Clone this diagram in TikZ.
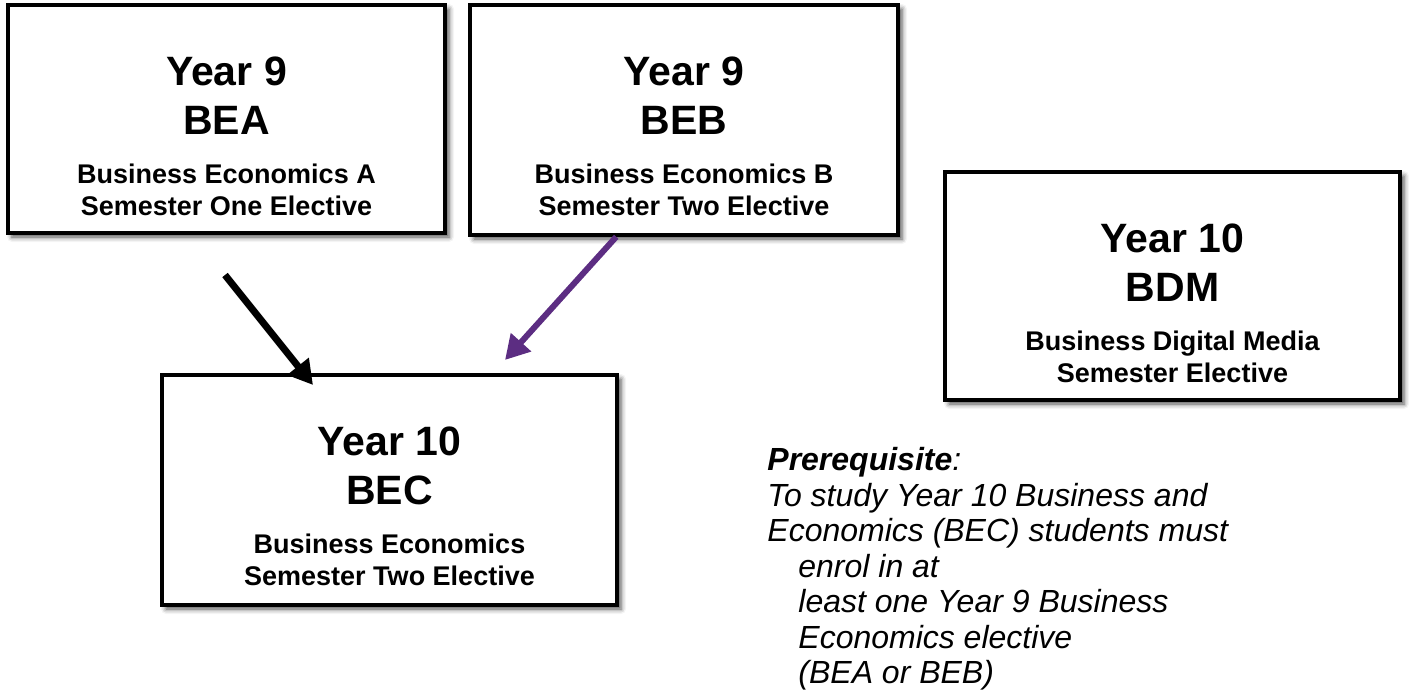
\documentclass[tikz,border=0pt]{standalone}
\usepackage{fontspec}
\setmainfont{Liberation Sans}
\usepackage{tikz}
\usetikzlibrary{calc, arrows.meta, shadows, shadows.blur}

\definecolor{bepurple}{RGB}{92,45,130}
\newcommand{\yrfont}{\fontsize{20.5pt}{24.5pt}\selectfont\bfseries}
\newcommand{\subfont}{\fontsize{13.5pt}{16pt}\selectfont\bfseries}
\newcommand{\prefont}{\fontsize{16pt}{17.75pt}\selectfont\itshape}

\tikzset{
	course/.style={draw, line width=1.8pt, fill=white, inner sep=0pt,
		blur shadow={shadow xshift=2pt, shadow yshift=-2pt, shadow blur radius=2.5pt, shadow opacity=70}},
	coursetext/.style={anchor=north, align=center, inner sep=0pt, yshift=-26.5pt, font=\yrfont},
	link/.style={line width=3.5pt, -{Triangle[length=12pt, width=13pt]}},
}

\begin{document}
\begin{tikzpicture}[x=0.5pt, y=-0.5pt]
	\useasboundingbox (0,0) rectangle (1409,696);

	% year 9 electives
	\node[course, minimum width=218.5pt, minimum height=114pt] (bea) at (226.5,119) {};
	\node[coursetext] (bea-txt) at (bea.north) {Year 9\\ BEA\\ \subfont Business Economics A\\[-8.5pt] \subfont Semester One Elective};
	\node[course, minimum width=214pt, minimum height=115pt] (beb) at (684,120) {};
	\node[coursetext] (beb-txt) at (beb.north) {Year 9\\ BEB\\ \subfont Business Economics B\\[-8.5pt] \subfont Semester Two Elective};

	% year 10 electives
	\node[course, minimum width=227.5pt, minimum height=115pt] (bec) at (389.5,490) {};
	\node[coursetext] (bec-txt) at (bec.north) {Year 10\\ BEC\\ \subfont Business Economics\\[-8.5pt] \subfont Semester Two Elective};
	\node[course, minimum width=227.5pt, minimum height=114pt] (bdm) at (1172.5,286) {};
	\node[coursetext] (bdm-txt) at (bdm.north) {Year 10\\ BDM\\ \subfont Business Digital Media\\[-8.5pt] \subfont Semester Elective};

	% pathways into BEC
	\coordinate (bea-out) at (225,275);
	\coordinate (bec-in) at (313,385);
	\draw[link] (bea-out) -- (bec-in);
	\coordinate (beb-out) at ($(beb.south west)!0.343!(beb.south east)$);
	\coordinate (bec-in2) at (505,360);
	\draw[link, bepurple, line width=3pt] (beb-out) -- (bec-in2);

	% prerequisite note
	\node[anchor=north west, align=left, inner sep=0pt, font=\prefont] (prereq) at (767,447) {\textbf{Prerequisite}:\\
		To study Year 10 Business and\\
		Economics (BEC) students must\\
		\hspace*{15.5pt}enrol in at\\
		\hspace*{15.5pt}least one Year 9 Business\\
		\hspace*{15.5pt}Economics elective\\
		\hspace*{15.5pt}(BEA or BEB)};
\end{tikzpicture}
\end{document}
